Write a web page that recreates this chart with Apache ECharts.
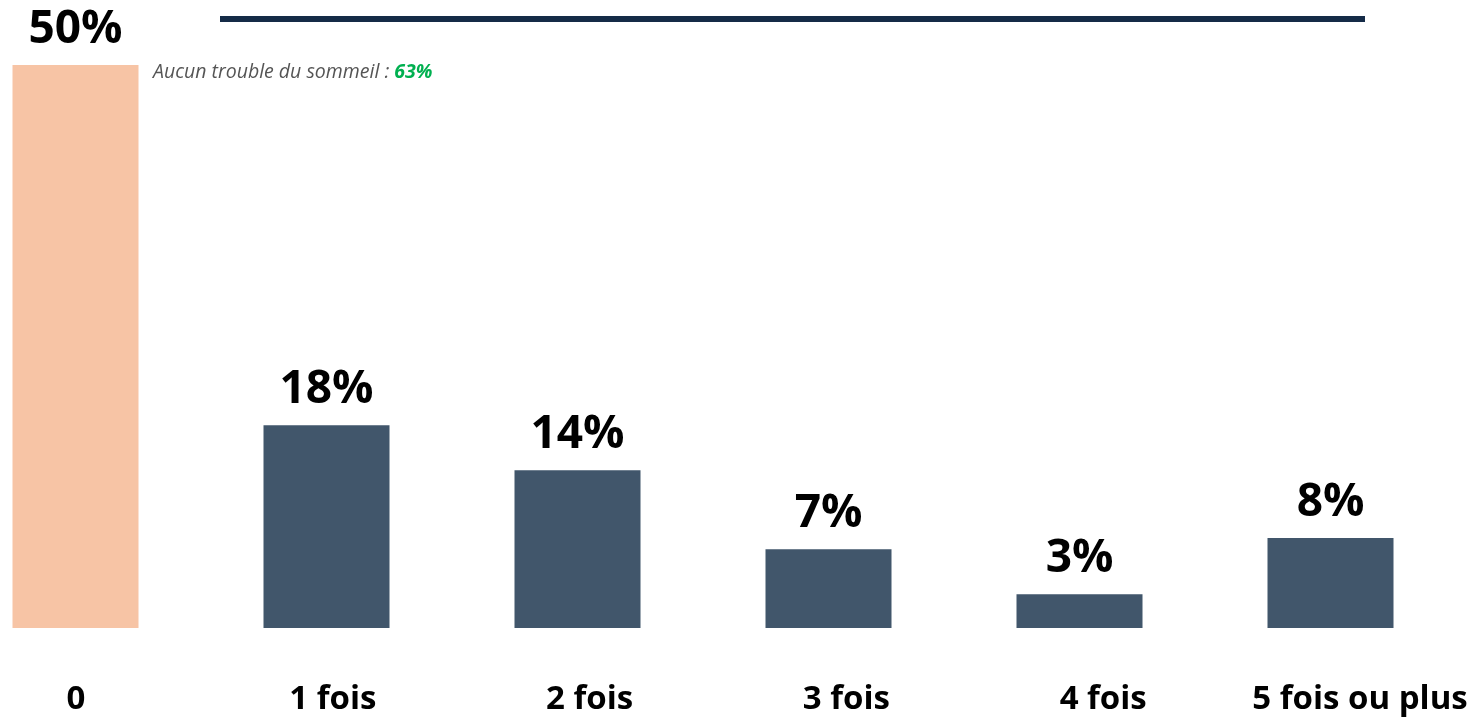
<!DOCTYPE html>
<html>
<head>
<meta charset="utf-8">
<script src="https://cdn.jsdelivr.net/npm/echarts@6/dist/echarts.min.js"></script>
<style>
html,body{margin:0;padding:0;background:#fff;}
#chart{width:1483px;height:720px;}
</style>
</head>
<body>
<div id="chart"></div>
<script>
var categories = ['0', '1 fois', '2 fois', '3 fois', '4 fois', '5 fois ou plus'];
var values = [50, 18, 14, 7, 3, 8];
var barColors = ['#F7C4A5', '#41566B', '#41566B', '#41566B', '#41566B', '#41566B'];
var noteText = 'Aucun trouble du sommeil : ';
var noteValue = '63%';

var chart = echarts.init(document.getElementById('chart'));
var font = '"Open Sans", sans-serif';
chart.setOption({
  animation: false,
  grid: [
    {left: -50, width: 1506, top: 65, bottom: 92, outerBoundsMode: 'none', containLabel: false},
    {left: -52.4, width: 1540.8, top: 65, bottom: 92, outerBoundsMode: 'none', containLabel: false}
  ],
  xAxis: [
    {type: 'category', gridIndex: 0, data: categories,
     axisLine: {show: false}, axisTick: {show: false}, axisLabel: {show: false}},
    {type: 'category', gridIndex: 1, data: categories,
     axisLine: {show: false}, axisTick: {show: false},
     axisLabel: {show: true, interval: 0, margin: 55, fontFamily: font, fontWeight: 'bold', fontSize: 33, color: '#000'}}
  ],
  yAxis: [
    {type: 'value', gridIndex: 0, min: 0, max: 50, show: false},
    {type: 'value', gridIndex: 1, min: 0, max: 50, show: false}
  ],
  series: [{
    type: 'bar',
    xAxisIndex: 0, yAxisIndex: 0,
    barWidth: 126,
    data: values.map(function (v, i) { return {value: v, itemStyle: {color: barColors[i]}}; }),
    label: {
      show: true, position: 'top', distance: 12,
      formatter: '{c}%',
      fontFamily: font, fontWeight: 'bold', fontSize: 46, color: '#000'
    }
  }],
  graphic: [
    {type: 'line', shape: {x1: 220, y1: 19, x2: 1365, y2: 19}, style: {stroke: '#152B47', lineWidth: 6}},
    {type: 'text', left: 153, top: 62,
     style: {
       text: '{a|' + noteText + '}{b|' + noteValue + '}',
       rich: {
         a: {fontFamily: font, fontStyle: 'italic', fontSize: 19.5, fill: '#555555'},
         b: {fontFamily: font, fontStyle: 'italic', fontWeight: 'bold', fontSize: 19.5, fill: '#00B050'}
       }
     }}
  ]
});
</script>
</body>
</html>
